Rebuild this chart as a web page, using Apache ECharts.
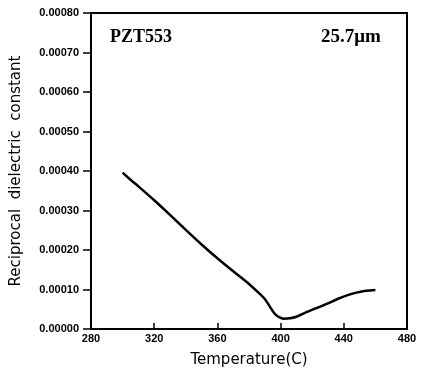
<!DOCTYPE html>
<html>
<head>
<meta charset="UTF-8">
<title>PZT553</title>
<script src="https://cdn.jsdelivr.net/npm/echarts@6/dist/echarts.min.js"></script>
<style>
  html, body { margin: 0; padding: 0; background: #fff; }
  #main { width: 421px; height: 373px; }
</style>
</head>
<body>
<div id="main"></div>
<script type="text/javascript">
// temperature (C) and reciprocal dielectric constant
var temps = [300, 305, 310, 320, 330, 340, 350, 360, 370, 380, 386, 390, 393, 396, 399, 402, 406, 410, 416, 422, 430, 436, 442, 448, 454, 460];
var recip = [0.000396, 0.000378, 0.000361, 0.000326, 0.000289, 0.000251, 0.000214, 0.000179, 0.000146, 0.000114, 0.000092, 0.000076, 0.000058, 0.000040, 0.000030, 0.000026, 0.000027, 0.000031, 0.000042, 0.000052, 0.000065, 0.000076, 0.000085, 0.000092, 0.000097, 0.000099];
var xTicks = [280, 320, 360, 400, 440, 480];
var sampleName = 'PZT553';
var thickness = '25.7\u03bcm';

var points = [];
for (var i = 0; i < temps.length; i++) {
    points.push([temps[i], recip[i]]);
}

var myChart = echarts.init(document.getElementById('main'));

var labelFont = {
    color: '#000',
    fontFamily: 'Liberation Sans',
    fontSize: 11,
    fontWeight: 'bold'
};

var option = {
    backgroundColor: '#fff',
    animation: false,
    grid: {
        left: 91,
        right: 14,
        top: 13,
        bottom: 43,
        show: true,
        borderColor: '#000',
        borderWidth: 2
    },
    graphic: [
        {
            type: 'text',
            left: 110,
            top: 28,
            style: {
                text: sampleName,
                font: 'bold 18px "Liberation Serif"',
                fill: '#000'
            }
        },
        {
            type: 'text',
            left: 321,
            top: 28,
            style: {
                text: thickness,
                font: 'bold 19px "Liberation Serif"',
                fill: '#000'
            }
        }
    ],
    xAxis: {
        type: 'value',
        min: 280,
        max: 480,
        interval: 40,
        name: 'Temperature(C)',
        nameLocation: 'middle',
        nameGap: 24,
        nameTextStyle: {
            color: '#000',
            fontFamily: 'DejaVu Sans',
            fontSize: 15
        },
        axisLine: { show: true, lineStyle: { color: '#000', width: 2 } },
        axisTick: { show: true, inside: true, length: 6, lineStyle: { color: '#000', width: 1.5 } },
        axisLabel: Object.assign({ margin: 4, formatter: function (v) { return xTicks.indexOf(v) >= 0 ? String(v) : ''; } }, labelFont),
        splitLine: { show: false }
    },
    yAxis: {
        type: 'value',
        min: 0,
        max: 0.0008,
        interval: 0.0001,
        name: 'Reciprocal  dielectric  constant',
        nameLocation: 'middle',
        nameGap: 67,
        nameTextStyle: {
            color: '#000',
            fontFamily: 'DejaVu Sans',
            fontSize: 15
        },
        axisLine: { show: true, lineStyle: { color: '#000', width: 2 } },
        axisTick: { show: true, inside: false, length: 8, lineStyle: { color: '#000', width: 1.5 } },
        axisLabel: Object.assign({ margin: 12, formatter: function (v) { return v.toFixed(5); } }, labelFont),
        splitLine: { show: false }
    },
    series: [
        {
            type: 'line',
            data: points,
            smooth: 0.3,
            showSymbol: false,
            lineStyle: { color: '#000', width: 2.5 }
        }
    ]
};
myChart.setOption(option);
</script>
</body>
</html>
